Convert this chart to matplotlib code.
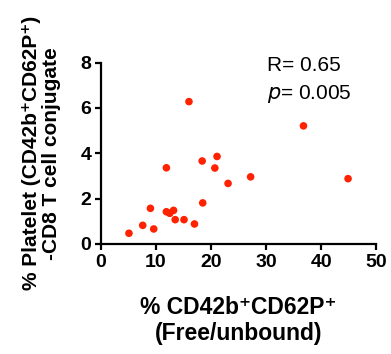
import matplotlib
matplotlib.use("Agg")
import matplotlib.pyplot as plt

plt.rcParams['font.family'] = ['Liberation Sans', 'DejaVu Sans']

x_free = [5.1, 7.6, 9.0, 9.6, 11.9, 11.9, 12.5, 13.2, 13.5, 16.0, 15.1, 17.0,
          18.4, 18.5, 20.7, 21.1, 23.1, 27.2, 36.8, 44.9]
y_conj = [0.47, 0.82, 1.57, 0.66, 3.36, 1.42, 1.35, 1.48, 1.07, 6.28, 1.07, 0.88,
          3.66, 1.81, 3.35, 3.86, 2.67, 2.96, 5.21, 2.88]
x_ticks = [0, 10, 20, 30, 40, 50]
y_ticks = [0, 2, 4, 6, 8]

fig = plt.figure(figsize=(3.91, 3.54), dpi=100)
ax = fig.add_axes([0.258, 0.311, 0.704, 0.512])
ax.scatter(x_free, y_conj, s=30, color='#FF2200', edgecolors='none', zorder=3)

ax.set_xlim(0, 50)
ax.set_ylim(0, 8)
ax.set_xticks(x_ticks)
ax.set_yticks(y_ticks)
for s in ['top', 'right']:
    ax.spines[s].set_visible(False)
for s in ['left', 'bottom']:
    ax.spines[s].set_linewidth(1.6)
ax.tick_params(direction='out', width=1.6, length=4, labelsize=14, pad=3)
for lab in ax.get_xticklabels() + ax.get_yticklabels():
    lab.set_fontweight('bold')

ax.set_xlabel('% CD42b⁺CD62P⁺\n(Free/unbound)', fontsize=16.5, fontweight='bold',
              labelpad=18, linespacing=1.2)
ax.set_ylabel('% Platelet (CD42b⁺CD62P⁺)\n-CD8 T cell conjugate', fontsize=15,
              fontweight='bold', labelpad=14, linespacing=1.05)

ax.text(0.605, 1.035, 'R= 0.65', transform=ax.transAxes, fontsize=15, va='top')
ax.text(0.605, 0.89, '$\\it{p}$= 0.005', transform=ax.transAxes, fontsize=15, va='top')

fig.savefig('out.png', dpi=100)
